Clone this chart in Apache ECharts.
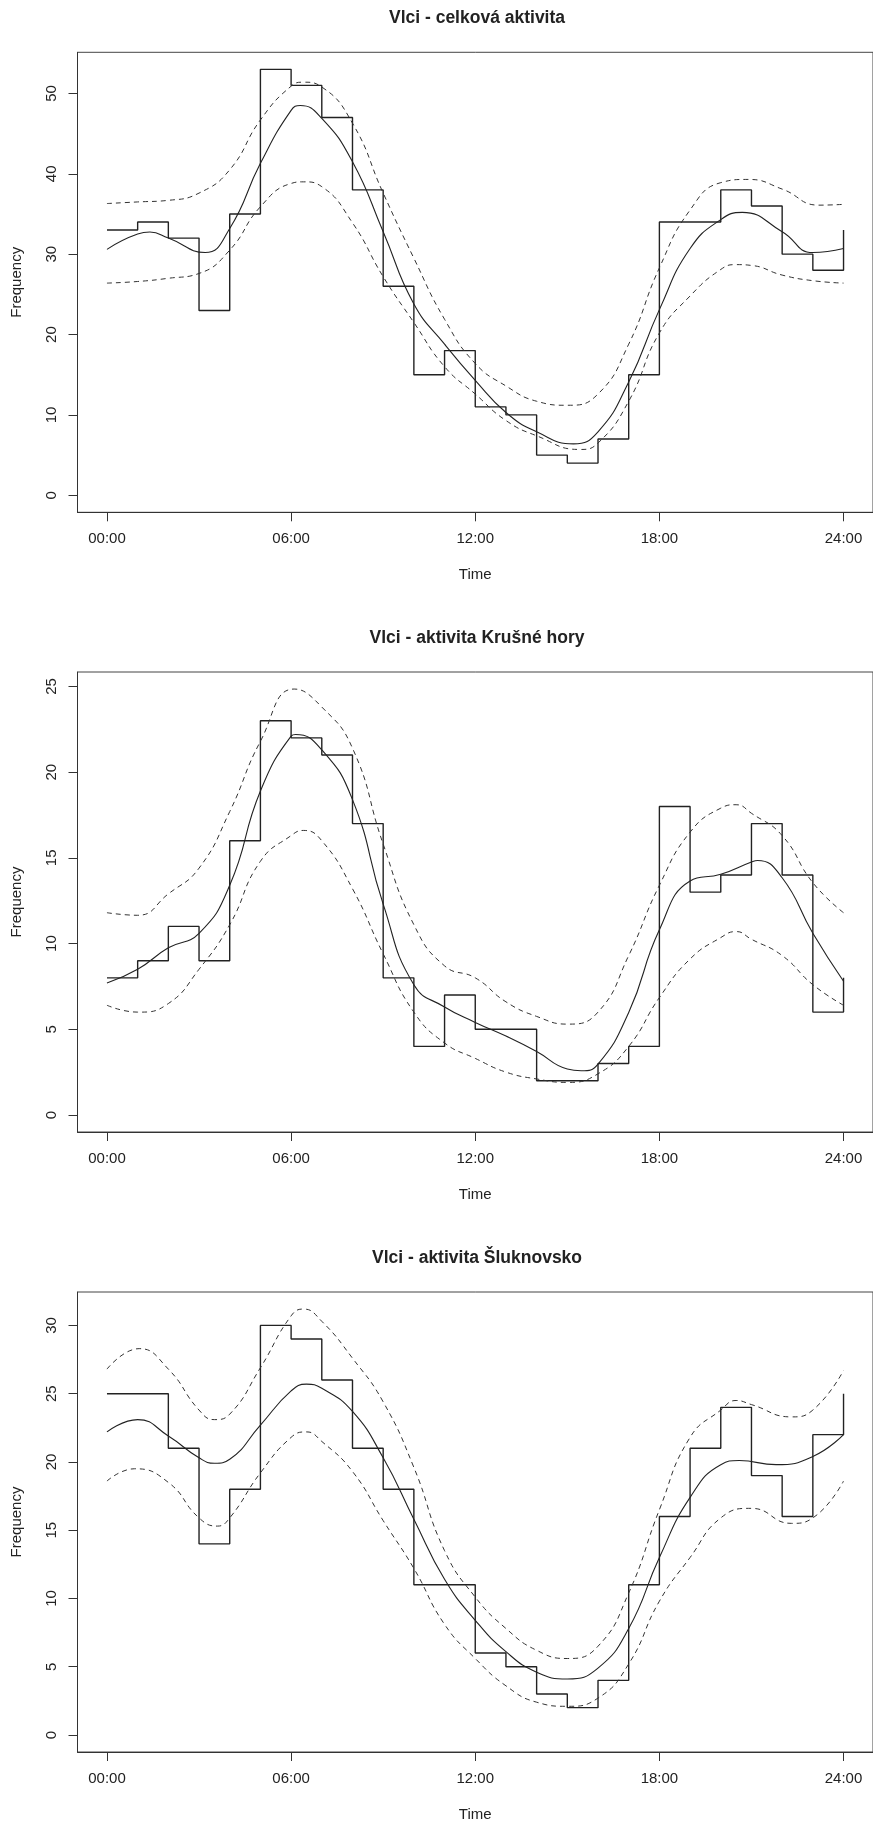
<!DOCTYPE html>
<html>
<head>
<meta charset="utf-8">
<script src="https://cdn.jsdelivr.net/npm/echarts@6/dist/echarts.min.js"></script>
<style>
  html, body { margin: 0; padding: 0; background: #fff; }
  #main { width: 873px; height: 1823px; }
</style>
</head>
<body>
<div id="main"></div>
<script>
// hours of the day, the last one wraps round to the first
const hours = [0, 1, 2, 3, 4, 5, 6, 7, 8, 9, 10, 11, 12, 13, 14, 15, 16, 17, 18, 19, 20, 21, 22, 23, 24]
const timeTicks = [0, 6, 12, 18, 24]

const titles = ['Vlci - celková aktivita', 'Vlci - aktivita Krušné hory', 'Vlci - aktivita Šluknovsko']

// Vlci - celková aktivita
// hourly counts, then [hour, value] points of the fitted curve and its band
const countsAll = [33, 34, 32, 23, 35, 53, 51, 47, 38, 26, 15, 18, 11, 10, 5, 4, 7, 15, 34, 34, 38, 36, 30, 28, 33]
const meanAll = [[0, 30.6], [1, 32.5], [1.4, 32.75], [2, 32.0], [3.2, 30.2], [4, 33.2], [5, 41.3], [6, 47.9], [6.3, 48.5], [7, 46.9], [8, 41.5], [9, 32.8], [10, 23.8], [11, 18.8], [12, 14.3], [13, 10.3], [14, 7.9], [15.2, 6.4], [16, 7.9], [17, 14.1], [18, 23.1], [19, 30.7], [20, 34.3], [20.7, 35.2], [22, 32.8], [23, 30.2], [24, 30.7]]
const upperAll = [[0, 36.3], [1, 36.5], [2, 36.7], [3, 37.6], [4, 40.5], [5, 46.7], [6, 50.9], [6.4, 51.4], [7, 50.8], [8, 46.3], [9, 37.6], [10, 29.5], [11, 21.9], [12, 16.4], [13, 13.6], [14, 11.7], [15, 11.2], [16, 12.6], [17, 18.8], [18, 28.3], [19, 35.5], [20, 38.9], [20.9, 39.3], [22, 38.1], [23.2, 36.1], [24, 36.2]]
const lowerAll = [[0, 26.4], [1, 26.6], [2, 27.0], [3, 27.6], [4, 30.5], [5, 35.9], [6, 38.8], [6.4, 39.0], [7, 38.4], [8, 33.9], [9, 27.2], [10, 21.5], [11, 16.0], [12, 12.6], [13, 9.3], [14, 7.4], [15.4, 5.7], [16, 6.5], [17, 11.7], [18, 20.2], [19, 24.8], [20, 28.1], [20.5, 28.7], [21, 28.6], [22, 27.4], [23, 26.7], [24, 26.4]]
const yTicksAll = [0, 10, 20, 30, 40, 50]

// Vlci - aktivita Krušné hory
const countsKH = [8, 9, 11, 9, 16, 23, 22, 21, 17, 8, 4, 7, 5, 5, 2, 2, 3, 4, 18, 13, 14, 17, 14, 6, 8]
const meanKH = [[0, 7.7], [1, 8.5], [2, 9.75], [3, 10.6], [4, 13.4], [5, 18.9], [6, 22.1], [6.15, 22.2], [7, 21.3], [8, 18.4], [9, 12.3], [10, 7.6], [11, 6.3], [12, 5.4], [13, 4.6], [14, 3.7], [15, 2.68], [15.45, 2.58], [16, 2.97], [17, 5.98], [18, 10.8], [19, 13.65], [20, 14.04], [21, 14.76], [21.2, 14.85], [22, 13.84], [23, 10.6], [24, 7.8]]
const upperKH = [[0, 11.8], [1, 11.65], [2, 12.9], [3, 14.4], [4, 17.7], [5, 21.8], [6.1, 24.85], [7, 23.8], [8, 21.4], [9, 15.8], [10, 11.1], [11, 8.7], [12, 8.0], [13, 6.6], [14, 5.75], [15, 5.3], [16, 6.0], [17, 9.3], [18, 13.4], [19, 16.5], [20, 17.9], [20.5, 18.1], [21, 17.6], [22, 16.3], [23, 13.55], [24, 11.8]]
const lowerKH = [[0, 6.4], [1, 6.0], [2, 6.5], [3, 8.5], [4, 11.1], [5, 14.8], [6, 16.3], [6.4, 16.6], [7, 16.0], [8, 13.2], [9, 9.4], [10, 6.0], [11, 4.2], [12, 3.3], [13, 2.5], [14, 2.1], [15, 1.9], [16, 2.4], [17, 4.0], [18, 6.85], [19, 9.1], [20, 10.35], [20.5, 10.7], [21, 10.25], [22, 9.3], [23, 7.6], [24, 6.4]]
const yTicksKH = [0, 5, 10, 15, 20, 25]

// Vlci - aktivita Šluknovsko
const countsSL = [25, 25, 21, 14, 18, 30, 29, 26, 21, 18, 11, 11, 6, 5, 3, 2, 4, 11, 16, 21, 24, 19, 16, 22, 25]
const meanSL = [[0, 22.2], [1, 23.1], [2, 21.9], [3, 20.3], [3.5, 19.9], [4, 20.2], [5, 22.7], [6, 25.2], [6.5, 25.7], [7, 25.4], [8, 23.7], [9, 20.3], [10, 15.8], [11, 11.4], [12, 8.4], [13, 6.1], [14, 4.6], [15, 4.1], [16, 4.9], [17, 7.8], [18, 13.0], [19, 17.4], [20, 19.8], [20.6, 20.1], [21.8, 19.8], [23, 20.4], [24, 22.0]]
const upperSL = [[0, 26.8], [1.05, 28.3], [2, 26.8], [3, 23.8], [3.5, 23.1], [4, 23.5], [5, 26.9], [6, 30.7], [6.4, 31.2], [7, 30.3], [8, 27.6], [9, 24.4], [10, 19.6], [11, 13.5], [12, 10.1], [13, 7.8], [14, 6.2], [15, 5.6], [16, 6.5], [17, 10.4], [18, 16.5], [19, 21.8], [20, 23.8], [20.5, 24.5], [21, 24.2], [22.3, 23.3], [23, 23.8], [24, 26.7]]
const lowerSL = [[0, 18.6], [0.9, 19.5], [2, 18.5], [3, 15.9], [3.6, 15.3], [4, 15.9], [5, 19.2], [6, 21.8], [6.5, 22.2], [7, 21.5], [8, 19.3], [9, 15.7], [10, 12.2], [11, 8.1], [12, 5.6], [13, 3.6], [14, 2.4], [15, 2.1], [16, 2.7], [17, 5.2], [18, 9.8], [19, 13.0], [20, 15.9], [21, 16.6], [22.3, 15.5], [23, 15.9], [24, 18.6]]
const yTicksSL = [0, 5, 10, 15, 20, 25, 30]

const panels = [
  { counts: countsAll, mean: meanAll, upper: upperAll, lower: lowerAll, ticks: yTicksAll },
  { counts: countsKH, mean: meanKH, upper: upperKH, lower: lowerKH, ticks: yTicksKH },
  { counts: countsSL, mean: meanSL, upper: upperSL, lower: lowerSL, ticks: yTicksSL },
]

const font = 'Liberation Sans, Arial, sans-serif'
const ink = '#222'
const plotTops = [52.3, 672, 1292]
const plotHeight = 460

// R style axis range: data range plus 4% on each side
const pad = (lo, hi) => [lo - 0.04 * (hi - lo), hi + 0.04 * (hi - lo)]

const chartDom = document.getElementById('main')
const myChart = echarts.init(chartDom, null, { renderer: 'canvas' })

const grid = []
const xAxis = []
const yAxis = []
const title = []
const series = []

panels.forEach((p, i) => {
  const ys = p.counts.concat(p.upper.map((d) => d[1]), p.lower.map((d) => d[1]))
  const yr = pad(Math.min(0, ...ys), Math.max(...ys))
  const xr = pad(0, 24)

  grid.push({
    left: 77.5, top: plotTops[i], width: 799, height: plotHeight,
    show: true, borderColor: '#444', borderWidth: 1, backgroundColor: 'transparent',
  })
  title.push({
    text: titles[i], left: 477, top: plotTops[i] - 43, textAlign: 'center', padding: 0,
    textStyle: { fontFamily: font, fontSize: 17.5, fontWeight: 'bold', color: ink },
  })
  xAxis.push({
    gridIndex: i, type: 'value', min: xr[0], max: xr[1],
    axisLine: { show: true, onZero: false, lineStyle: { color: '#333', width: 1 } },
    axisTick: { show: true, length: 9, customValues: timeTicks, lineStyle: { color: '#333' } },
    axisLabel: {
      customValues: timeTicks, margin: 19, fontSize: 15, fontFamily: font, color: ink,
      formatter: (v) => String(v).padStart(2, '0') + ':00',
    },
    splitLine: { show: false },
    name: 'Time', nameLocation: 'middle', nameGap: 55,
    nameTextStyle: { fontFamily: font, fontSize: 15, color: ink },
  })
  yAxis.push({
    gridIndex: i, type: 'value', min: yr[0], max: yr[1],
    axisLine: { show: true, onZero: false, lineStyle: { color: '#333', width: 1 } },
    axisTick: { show: true, length: 9, customValues: p.ticks, lineStyle: { color: '#333' } },
    axisLabel: { customValues: p.ticks, rotate: 90, margin: 18, fontSize: 15, fontFamily: font, color: ink },
    splitLine: { show: false },
    name: 'Frequency', nameLocation: 'middle', nameGap: 53, nameRotate: 90,
    nameTextStyle: { fontFamily: font, fontSize: 15, color: ink },
  })

  const base = { xAxisIndex: i, yAxisIndex: i, type: 'line', symbol: 'none', silent: true, animation: false }
  series.push({ ...base, data: hours.map((h, k) => [h, p.counts[k]]), step: 'end', lineStyle: { color: ink, width: 1.4 } })
  series.push({ ...base, data: p.mean, smooth: 0.5, lineStyle: { color: ink, width: 1.1 } })
  series.push({ ...base, data: p.upper, smooth: 0.5, lineStyle: { color: '#333', width: 1, type: [5, 4] } })
  series.push({ ...base, data: p.lower, smooth: 0.5, lineStyle: { color: '#333', width: 1, type: [5, 4] } })
})

const option = {
  backgroundColor: '#fff',
  animation: false,
  title: title,
  grid: grid,
  xAxis: xAxis,
  yAxis: yAxis,
  series: series,
}

option && myChart.setOption(option)

window.addEventListener('resize', function () {
  myChart.resize()
})
</script>
</body>
</html>
